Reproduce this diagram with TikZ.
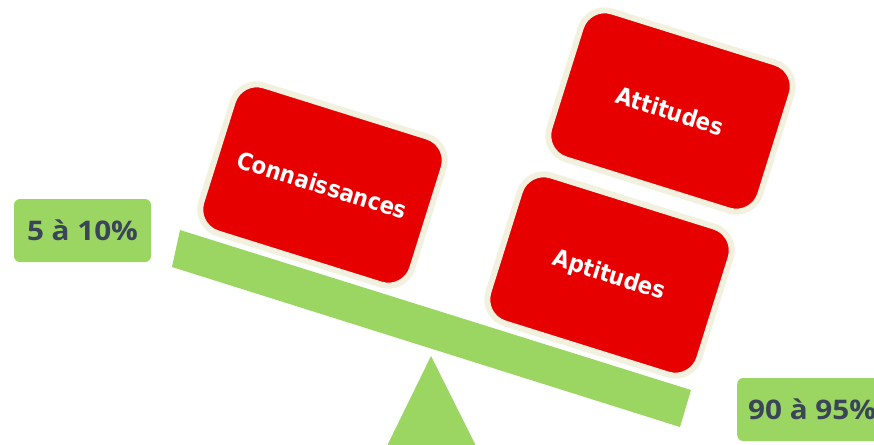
\documentclass[tikz,border=0pt]{standalone}
\usepackage{fontspec}
\newfontfamily\boxfont[FakeStretch=0.9]{DejaVu Sans}
\newfontfamily\labelfont[FakeStretch=1.1]{Open Sans}
\definecolor{boxred}{HTML}{E60000}
\definecolor{boxrim}{HTML}{F2F1DF}
\definecolor{leaf}{HTML}{9CD662}
\definecolor{slate}{HTML}{3B4558}
\tikzset{
  redbox/.style={draw=boxrim,fill=boxred,line width=6pt,rounded corners=25pt,
    minimum width=221pt,minimum height=155pt,rotate=-17.4,inner sep=0pt},
  boxtext/.style={text=white,font=\boxfont\fontsize{23.6}{26}\selectfont\bfseries,rotate=-17.4,inner sep=0pt},
  pcttext/.style={text=slate,font=\labelfont\fontsize{27}{30}\selectfont\bfseries,inner sep=0pt},
  pct/.style={fill=leaf,rounded corners=6pt,minimum width=137pt,minimum height=63pt,inner sep=0pt,pcttext},
  leafshape/.style={fill=leaf,draw=none}
}
\begin{document}
\begin{tikzpicture}[x=1pt,y=-1pt]
\useasboundingbox (0,0) rectangle (874,444);
\clip (0,0) rectangle (874,444);
\fill[leafshape] (180,230) -- (691,390) -- (680,427) -- (172,267) -- cycle;
\fill[leafshape] (431,356) -- (476,446) -- (387,446) -- cycle;
\node[redbox] (k) at (322.5,185) {};
\node[redbox] (ap) at (609.5,275) {};
\node[redbox] (at) at (670.5,111) {};
\node[boxtext] (kt) at (322.5,185) {Connaissances};
\node[boxtext] (apt) at (609,276) {Aptitudes};
\node[boxtext] (att) at (670,111) {Attitudes};
\node[pct] (low) at (82.5,230.5) {5 à 10\%};
\node[pct,anchor=west,minimum width=160pt] (high) at (737,409.5) {};
\node[pcttext,anchor=west] (hight) at (748,409.5) {90 à 95\%};
\end{tikzpicture}
\end{document}
